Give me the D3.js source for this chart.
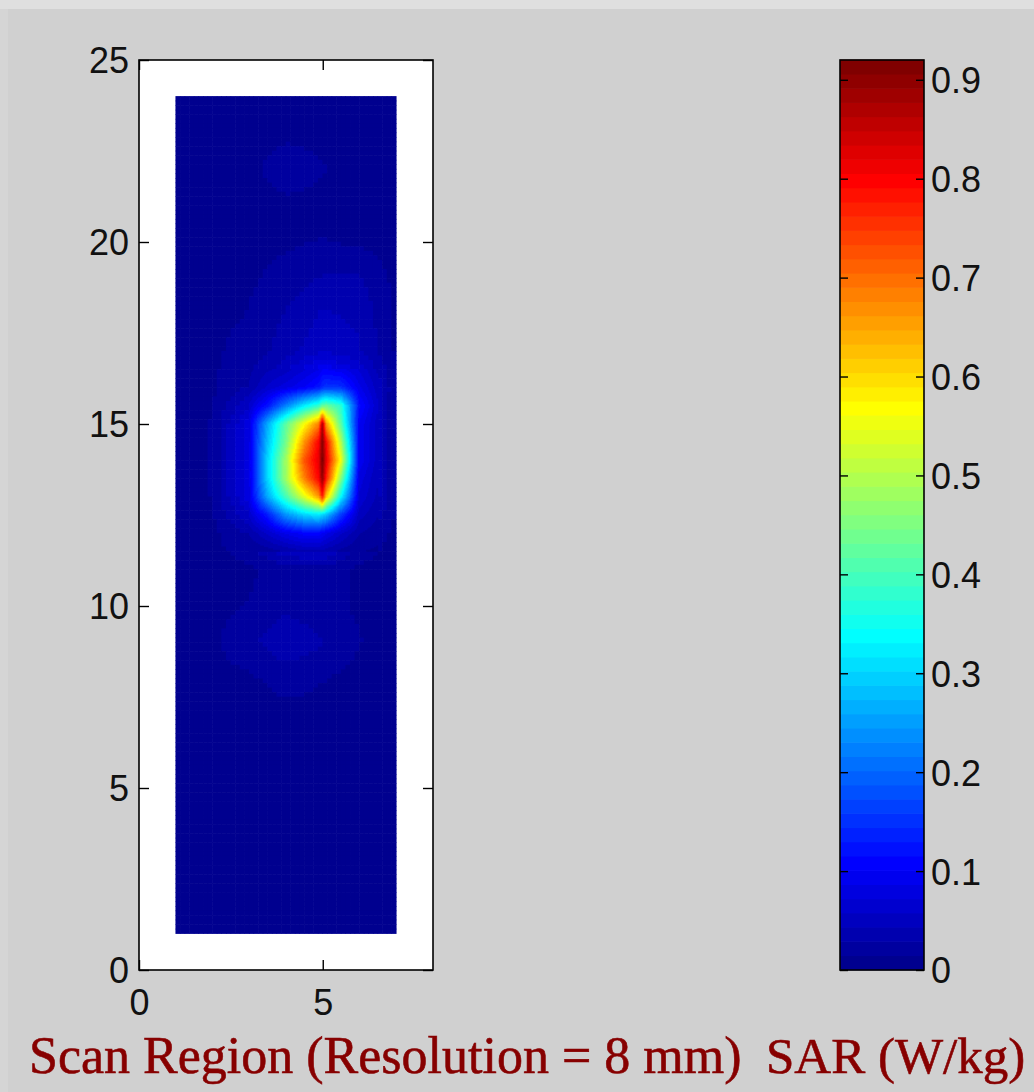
<!DOCTYPE html>
<html>
<head>
<meta charset="utf-8">
<script src="https://cdn.jsdelivr.net/npm/d3@7"></script>
<style>
  html, body { margin: 0; padding: 0; background: #d0d0d0; }
  svg { display: block; }
</style>
</head>
<body>
<svg id="chart" width="1034" height="1092"></svg>
<script>
// ---- Area scan: SAR (W/kg) on the coarse 1-unit grid (rows listed top to bottom) ----
const areaX = [1, 2, 3, 4, 5, 6, 7];
const areaY = [24, 23, 22, 21, 20, 19, 18, 17, 16, 15, 14, 13, 12, 11, 10, 9, 8, 7, 6, 5, 4, 3, 2, 1];
const areaSAR = [
  [0.008, 0.008, 0.008, 0.008, 0.008, 0.008, 0.008], // 24
  [0.008, 0.008, 0.010, 0.012, 0.012, 0.010, 0.008], // 23
  [0.008, 0.008, 0.012, 0.020, 0.015, 0.010, 0.008], // 22
  [0.008, 0.008, 0.010, 0.012, 0.012, 0.010, 0.008], // 21
  [0.008, 0.008, 0.010, 0.012, 0.015, 0.012, 0.008], // 20
  [0.008, 0.010, 0.012, 0.020, 0.030, 0.030, 0.010], // 19
  [0.008, 0.010, 0.015, 0.030, 0.045, 0.040, 0.012], // 18
  [0.008, 0.012, 0.020, 0.035, 0.055, 0.045, 0.012], // 17
  [0.008, 0.012, 0.030, 0.070, 0.140, 0.090, 0.015], // 16
  [0.008, 0.015, 0.080, 0.420, 0.880, 0.080, 0.015], // 15
  [0.008, 0.015, 0.080, 0.480, 0.920, 0.080, 0.015], // 14
  [0.008, 0.015, 0.080, 0.400, 0.780, 0.080, 0.015], // 13
  [0.008, 0.010, 0.030, 0.090, 0.100, 0.030, 0.010], // 12
  [0.008, 0.010, 0.012, 0.020, 0.020, 0.012, 0.008], // 11
  [0.008, 0.010, 0.015, 0.025, 0.020, 0.012, 0.008], // 10
  [0.008, 0.012, 0.025, 0.040, 0.030, 0.015, 0.008], // 9
  [0.008, 0.010, 0.012, 0.020, 0.015, 0.010, 0.008], // 8
  [0.008, 0.008, 0.008, 0.010, 0.010, 0.008, 0.008], // 7
  [0.008, 0.008, 0.008, 0.008, 0.008, 0.008, 0.008], // 6
  [0.008, 0.008, 0.008, 0.008, 0.008, 0.008, 0.008], // 5
  [0.008, 0.008, 0.008, 0.008, 0.008, 0.008, 0.008], // 4
  [0.008, 0.008, 0.008, 0.008, 0.008, 0.008, 0.008], // 3
  [0.008, 0.008, 0.008, 0.008, 0.008, 0.008, 0.008], // 2
  [0.008, 0.008, 0.008, 0.008, 0.008, 0.008, 0.008]  // 1
];

// ---- Zoom scan around the peak: finer grid (rows listed top to bottom) ----
const zoomX = [3, 3.5, 4, 4.5, 4.9, 5, 5.1, 5.5, 6, 6.5];
const zoomY = [16.5, 16, 15.5, 15, 14.5, 14, 13.5, 13, 12.5, 12, 11.5];
const zoomSAR = [
  [0.025, 0.040, 0.050, 0.070, 0.085, 0.100, 0.100, 0.090, 0.070, 0.040], // 16.5
  [0.030, 0.060, 0.080, 0.100, 0.125, 0.145, 0.155, 0.150, 0.090, 0.050], // 16
  [0.060, 0.120, 0.220, 0.320, 0.380, 0.420, 0.430, 0.380, 0.120, 0.060], // 15.5
  [0.080, 0.260, 0.420, 0.560, 0.680, 0.880, 0.660, 0.420, 0.100, 0.050], // 15
  [0.080, 0.280, 0.440, 0.660, 0.800, 0.910, 0.800, 0.500, 0.100, 0.050], // 14.5
  [0.080, 0.300, 0.480, 0.720, 0.820, 0.920, 0.820, 0.560, 0.100, 0.050], // 14
  [0.080, 0.300, 0.480, 0.680, 0.800, 0.900, 0.780, 0.460, 0.080, 0.045], // 13.5
  [0.080, 0.260, 0.400, 0.540, 0.660, 0.780, 0.620, 0.340, 0.070, 0.040], // 13
  [0.060, 0.130, 0.240, 0.300, 0.320, 0.300, 0.280, 0.160, 0.050, 0.030], // 12.5
  [0.030, 0.060, 0.090, 0.110, 0.110, 0.100, 0.090, 0.060, 0.030, 0.020], // 12
  [0.015, 0.020, 0.030, 0.040, 0.040, 0.040, 0.035, 0.025, 0.015, 0.012]  // 11.5
];

// ---- Axis ticks and labels ----
const xTicks = [0, 5];
const yTicks = [0, 5, 10, 15, 20, 25];
const cbarTicks = [0, 0.1, 0.2, 0.3, 0.4, 0.5, 0.6, 0.7, 0.8, 0.9];
const cbarTickLabels = ["0", "0.1", "0.2", "0.3", "0.4", "0.5", "0.6", "0.7", "0.8", "0.9"];
const scanLabel = "Scan Region (Resolution = 8 mm)";
const sarLabel = "SAR (W/kg)";
const sarRange = [0, 0.92];

// ---- Scales ----
const x = d3.scaleLinear().domain([0, 8]).range([139, 433]);
const y = d3.scaleLinear().domain([0, 25]).range([970, 60]);
const cbarY = d3.scaleLinear().domain(sarRange).range([970, 60]);

// 64-step "jet" colour map
function jet(t) {
  const c = v => Math.max(0, Math.min(1, v));
  const r = c(1.5 - Math.abs(4 * t - 3));
  const g = c(1.5 - Math.abs(4 * t - 2));
  const b = c(1.5 - Math.abs(4 * t - 1));
  return d3.rgb(Math.round(r * 255), Math.round(g * 255), Math.round(b * 255)).formatHex();
}
const jet64 = d3.range(64).map(i => jet((i + 1) / 64));
const color = d3.scaleQuantize().domain(sarRange).range(jet64);

const svg = d3.select("#chart");

// Window background strips
svg.append("rect").attr("x", 0).attr("y", 0).attr("width", 1034).attr("height", 1092).attr("fill", "#d0d0d0");
svg.append("rect").attr("x", 0).attr("y", 0).attr("width", 1034).attr("height", 9).attr("fill", "#dfdfdf");
svg.append("rect").attr("x", 0).attr("y", 9).attr("width", 8).attr("height", 1083).attr("fill", "#d5d5d5");

// Plot area
svg.append("rect")
  .attr("x", x(0)).attr("y", y(25))
  .attr("width", x(8) - x(0)).attr("height", y(0) - y(25))
  .attr("fill", "#ffffff");

// Split each grid cell into small pieces shaded by bilinear interpolation
function shadedPieces(gx, gy, values, pieceOf) {
  const out = [];
  for (let j = 0; j < gy.length - 1; j++) {
    for (let i = 0; i < gx.length - 1; i++) {
      const x0 = gx[i], x1 = gx[i + 1], y0 = gy[j], y1 = gy[j + 1];
      const v00 = values[j][i], v10 = values[j][i + 1];
      const v01 = values[j + 1][i], v11 = values[j + 1][i + 1];
      const [sx, sy] = pieceOf(x0, x1, y0, y1);
      for (let a = 0; a < sx; a++) {
        for (let b = 0; b < sy; b++) {
          const u = (a + 0.5) / sx, w = (b + 0.5) / sy;
          const v = (1 - u) * (1 - w) * v00 + u * (1 - w) * v10 + (1 - u) * w * v01 + u * w * v11;
          out.push({
            xa: x0 + (x1 - x0) * a / sx, xb: x0 + (x1 - x0) * (a + 1) / sx,
            ya: y0 + (y1 - y0) * b / sy, yb: y0 + (y1 - y0) * (b + 1) / sy,
            v
          });
        }
      }
    }
  }
  return out;
}

const areaPieces = shadedPieces(areaX, areaY, areaSAR, () => [8, 8]);
const zoomPieces = shadedPieces(zoomX, zoomY, zoomSAR, (x0, x1, y0, y1) => [
  Math.max(2, Math.ceil(Math.abs(x(x1) - x(x0)) / 1.2)),
  Math.max(2, Math.ceil(Math.abs(y(y1) - y(y0)) / 1.5))
]);

function drawPieces(cls, pieces) {
  svg.append("g").attr("class", cls)
    .selectAll("rect").data(pieces).join("rect")
    .attr("x", d => Math.min(x(d.xa), x(d.xb)) - 0.3)
    .attr("y", d => Math.min(y(d.ya), y(d.yb)) - 0.3)
    .attr("width", d => Math.abs(x(d.xb) - x(d.xa)) + 0.6)
    .attr("height", d => Math.abs(y(d.yb) - y(d.ya)) + 0.6)
    .attr("fill", d => color(d.v));
}
drawPieces("area-scan", areaPieces);
drawPieces("zoom-scan", zoomPieces);

// Axes with inward ticks
const tickFont = "'Liberation Sans', Arial, sans-serif";
function styleAxis(g) {
  g.select(".domain").remove();
  g.selectAll(".tick line").attr("stroke", "#000").attr("stroke-width", 1.4);
  g.selectAll(".tick text").attr("fill", "#111")
    .attr("font-family", tickFont).attr("font-size", 36);
  g.attr("font-family", tickFont).attr("font-size", 36);
}

svg.append("g").attr("transform", `translate(${x(0)},0)`)
  .call(d3.axisLeft(y).tickValues(yTicks).tickSize(-10).tickSizeOuter(0).tickPadding(10).tickFormat(d3.format("d")))
  .call(styleAxis)
  .call(g => g.selectAll(".tick text").attr("dy", "0.36em"));
svg.append("g").attr("transform", `translate(${x(8)},0)`)
  .call(d3.axisRight(y).tickValues(yTicks).tickSize(-10).tickSizeOuter(0).tickFormat(""))
  .call(styleAxis);
svg.append("g").attr("transform", `translate(0,${y(0)})`)
  .call(d3.axisBottom(x).tickValues(xTicks).tickSize(-10).tickSizeOuter(0).tickPadding(19).tickFormat(d3.format("d")))
  .call(styleAxis);
svg.append("g").attr("transform", `translate(0,${y(25)})`)
  .call(d3.axisTop(x).tickValues(xTicks).tickSize(-10).tickSizeOuter(0).tickFormat(""))
  .call(styleAxis);

// Plot frame
svg.append("rect")
  .attr("x", x(0)).attr("y", y(25))
  .attr("width", x(8) - x(0)).attr("height", y(0) - y(25))
  .attr("fill", "none").attr("stroke", "#000").attr("stroke-width", 1.6);

// ---- Colour bar ----
const cbLeft = 840, cbRight = 924;
const bandStep = (sarRange[1] - sarRange[0]) / 64;
const bands = d3.range(64).map(i => ({ lo: sarRange[0] + i * bandStep, hi: sarRange[0] + (i + 1) * bandStep, c: jet64[i] }));
svg.append("g").attr("class", "colorbar")
  .selectAll("rect").data(bands).join("rect")
  .attr("x", cbLeft)
  .attr("y", d => cbarY(d.hi) - 0.3)
  .attr("width", cbRight - cbLeft)
  .attr("height", d => cbarY(d.lo) - cbarY(d.hi) + 0.6)
  .attr("fill", d => d.c);

svg.append("g").attr("transform", `translate(${cbLeft},0)`)
  .call(d3.axisLeft(cbarY).tickValues(cbarTicks).tickSize(-8).tickSizeOuter(0).tickFormat(""))
  .call(styleAxis);
svg.append("g").attr("transform", `translate(${cbRight},0)`)
  .call(d3.axisRight(cbarY).tickValues(cbarTicks).tickSize(-8).tickSizeOuter(0).tickPadding(7)
    .tickFormat((d, i) => cbarTickLabels[i]))
  .call(styleAxis)
  .call(g => g.selectAll(".tick text").attr("dy", "0.36em"));

svg.append("rect")
  .attr("x", cbLeft).attr("y", cbarY(sarRange[1]))
  .attr("width", cbRight - cbLeft).attr("height", cbarY(sarRange[0]) - cbarY(sarRange[1]))
  .attr("fill", "none").attr("stroke", "#000").attr("stroke-width", 1.6);

// ---- Titles under the plots ----
const titleFont = "'Liberation Serif', 'Times New Roman', serif";
svg.append("text").attr("x", 29).attr("y", 1073)
  .attr("font-family", titleFont).attr("font-size", 52).attr("fill", "#870000")
  .attr("stroke", "#870000").attr("stroke-width", 0.6)
  .text(scanLabel);
svg.append("text").attr("x", 766).attr("y", 1073)
  .attr("font-family", titleFont).attr("font-size", 51).attr("fill", "#870000")
  .attr("stroke", "#870000").attr("stroke-width", 0.6)
  .text(sarLabel);
</script>
</body>
</html>
